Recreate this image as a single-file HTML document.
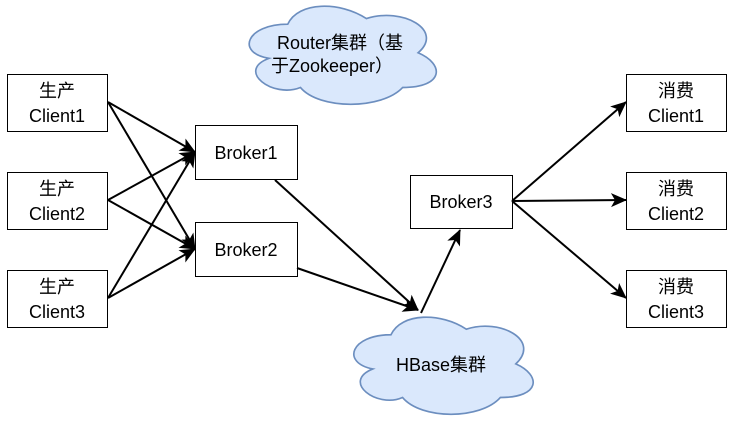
<!DOCTYPE html><html><head><meta charset="utf-8"><style>body{margin:0;background:#fff}text{font-family:"Liberation Sans","Noto Sans CJK SC",sans-serif;font-size:18px;fill:#000}</style></head><body>
<svg width="737" height="419" xmlns="http://www.w3.org/2000/svg">
<defs><marker id="a" markerWidth="16" markerHeight="16" refX="15" refY="7" orient="auto" markerUnits="userSpaceOnUse" viewBox="0 0 16 14"><path d="M0,0 L16,7 L0,14 L4,7 Z" fill="#000"/></marker></defs>
<g fill="#dae8fc" stroke="#6c8ebf" stroke-width="1.5">
<path transform="translate(340 55) scale(1.1 1.12) translate(-340 -55)" d="M292.5,27.5 C255,27.5 245,53 275.4,58 C245,69 279,94 304,84 C321,104 378,104 397,84 C435,84 435,63 411,53 C435,33 397,12 364,22.5 C340,7 302,7 292.5,27.5 Z"/>
<path transform="translate(441 365) scale(1.1 1.12) translate(-441 -365)" d="M395.5,338 C359,338 350,363 379,368.5 C350,380 383,404 406,394 C423,414 477,414 495,394 C532,394 532,374 509,364 C532,343 495,323 464,333 C441,318 405,318 395.5,338 Z"/>
</g>
<g fill="#fff" stroke="#000" stroke-width="1">
<rect x="7.5" y="74.5" width="100" height="57"/><rect x="7.5" y="172.5" width="100" height="57"/><rect x="7.5" y="270.5" width="100" height="57"/>
<rect x="195.5" y="125.5" width="102" height="54"/><rect x="195.5" y="222.5" width="102" height="54"/><rect x="410.5" y="175.5" width="102" height="53"/>
<rect x="626.5" y="74.5" width="100" height="57"/><rect x="626.5" y="172.5" width="100" height="57"/><rect x="626.5" y="270.5" width="100" height="57"/>
</g>
<g stroke="#000" stroke-width="2" marker-end="url(#a)">
<line x1="108" y1="102" x2="195" y2="152"/><line x1="108" y1="102" x2="195" y2="249"/>
<line x1="108" y1="200" x2="195" y2="152"/><line x1="108" y1="200" x2="195" y2="249"/>
<line x1="108" y1="298" x2="195" y2="152"/><line x1="108" y1="298" x2="195" y2="249"/>
<line x1="275" y1="180" x2="418" y2="310"/><line x1="297" y1="268" x2="418" y2="310"/>
<line x1="421" y1="313" x2="460" y2="230"/>
<line x1="512" y1="201" x2="626" y2="102"/><line x1="512" y1="201" x2="626" y2="200"/><line x1="512" y1="201" x2="626" y2="298"/>
</g>
<g text-anchor="middle">
<text x="57" y="97">生产</text><text x="57" y="122">Client1</text>
<text x="57" y="195">生产</text><text x="57" y="220">Client2</text>
<text x="57" y="293">生产</text><text x="57" y="318">Client3</text>
<text x="676" y="97">消费</text><text x="676" y="122">Client1</text>
<text x="676" y="195">消费</text><text x="676" y="220">Client2</text>
<text x="676" y="293">消费</text><text x="676" y="318">Client3</text>
<text x="246" y="159">Broker1</text><text x="246" y="256">Broker2</text><text x="461" y="208">Broker3</text>
<text x="340" y="49">Router集群（基</text><text x="332" y="72">于Zookeeper）</text>
<text x="441" y="371">HBase集群</text>
</g>
</svg></body></html>
